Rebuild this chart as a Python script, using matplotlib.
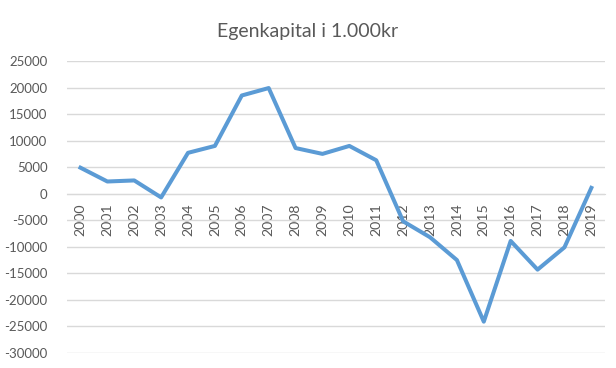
import matplotlib
matplotlib.use("Agg")
import matplotlib.pyplot as plt

years = [str(y) for y in range(2000, 2020)]
values = [4900, 2300, 2500, -700, 7700, 9000, 18500, 19900, 8600, 7500,
          9000, 6300, -5200, -8200, -12500, -24100, -8900, -14300, -10100, 1100]
yticks = list(range(-30000, 25001, 5000))
title = "Egenkapital i 1.000kr"

plt.rcParams['font.family'] = ['Lato', 'DejaVu Sans']
fig = plt.figure(figsize=(6.16, 3.68), dpi=100)
ax = fig.add_axes([0.1088, 0.0408, 0.873, 0.7935])
x = list(range(len(years)))
ax.plot(x, values, color='#5B9BD5', linewidth=2.9, solid_joinstyle='round', zorder=3)
ax.set_xlim(-0.5, len(years) - 0.5)
ax.set_ylim(-30000, 25000)
ax.grid(axis='y', color='#D9D9D9', linewidth=1)
ax.set_axisbelow(True)
for s in ['top', 'right', 'left']:
    ax.spines[s].set_visible(False)
ax.spines['bottom'].set_position(('data', 0))
ax.spines['bottom'].set_color('#D9D9D9')
ax.set_yticks(yticks)
ax.set_yticklabels([str(v) for v in yticks])
ax.set_xticks(x)
ax.set_xticklabels(years)
ax.tick_params(axis='both', length=0, colors='#595959', labelsize=9.5)
ax.tick_params(axis='y', pad=14)
ax.tick_params(axis='x', pad=7, labelrotation=90, labelsize=10.2)
fig.text(0.5, 0.915, title, ha='center', va='center', fontsize=14, color='#595959')
fig.savefig('out.png', dpi=100)
